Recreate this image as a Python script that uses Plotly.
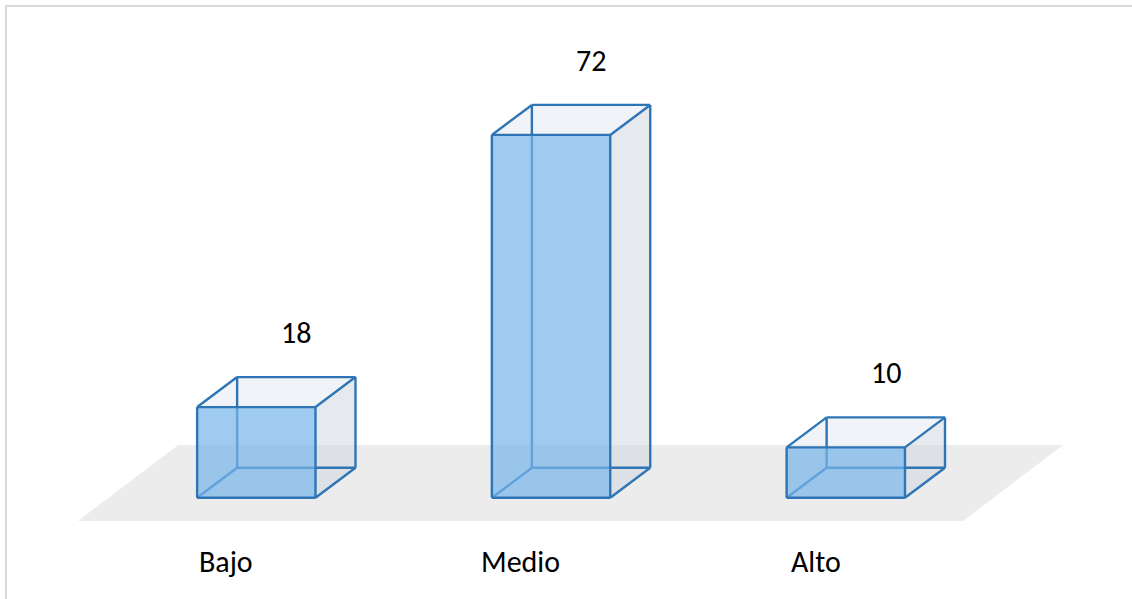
import plotly.graph_objects as go

# ---- data ----
categories = ["Bajo", "Medio", "Alto"]
values = [18, 72, 10]
value_labels = ["18", "72", "10"]

# ---- styling / geometry constants (axis units) ----
W, H = 1132, 599
BAR_HALF = 0.2008          # half width of front face (category units)
DX = 40 / 294.75           # depth offset in x (category units)
DY = 30 / 5.04             # depth offset in y (value units)
LABEL_GAP = 8.9            # gap between back-top edge and value label (value units)
CAT_SHIFT = -0.102         # category label shift (category units)
CAT_Y = -12.6              # category label y (value units)
XR = [-0.8696, 2.971]
YR = [-20.08, 98.77]
# floor parallelogram (axis units)
FLOOR_FRONT_Y, FLOOR_BACK_Y = -4.60, 10.48
FLOOR_FRONT_X = [-0.605, 2.398]
FLOOR_BACK_X = [-0.2655, 2.737]

EDGE = "rgb(46,117,182)"
FRONT = "rgba(119,181,234,0.70)"
SIDE = "rgba(205,213,221,0.50)"
TOP = "rgba(225,232,240,0.50)"
FLOOR = "rgb(236,236,236)"
LW = 2.4
FONT = "Calibri, Carlito, Lato, sans-serif"
FS = 30

fig = go.Figure()

def poly(xs, ys, fill):
    fig.add_trace(go.Scatter(x=xs + [xs[0]], y=ys + [ys[0]], mode="lines",
                             fill="toself", fillcolor=fill,
                             line=dict(width=0, color=fill),
                             hoverinfo="skip", showlegend=False))

def segs(pairs, color=EDGE):
    xs, ys = [], []
    for (x0, y0), (x1, y1) in pairs:
        xs += [x0, x1, None]
        ys += [y0, y1, None]
    fig.add_trace(go.Scatter(x=xs, y=ys, mode="lines",
                             line=dict(width=LW, color=color),
                             hoverinfo="skip", showlegend=False))

# floor
poly([FLOOR_FRONT_X[0], FLOOR_FRONT_X[1], FLOOR_BACK_X[1], FLOOR_BACK_X[0]],
     [FLOOR_FRONT_Y, FLOOR_FRONT_Y, FLOOR_BACK_Y, FLOOR_BACK_Y], FLOOR)

for i, v in enumerate(values):
    xl, xr = i - BAR_HALF, i + BAR_HALF
    bl, br = xl + DX, xr + DX
    # side face
    poly([xr, xr, br, br], [0, v, v + DY, DY], SIDE)
    # top face
    poly([xl, xr, br, bl], [v, v, v + DY, v + DY], TOP)
    # hidden edges
    segs([((bl, DY), (bl, v + DY)), ((bl, DY), (br, DY)), ((xl, 0), (bl, DY))])
    # front face
    poly([xl, xr, xr, xl], [0, 0, v, v], FRONT)
    # visible edges
    segs([((xl, 0), (xr, 0)), ((xr, 0), (xr, v)), ((xr, v), (xl, v)), ((xl, v), (xl, 0)),
          ((xl, v), (bl, v + DY)), ((xr, v), (br, v + DY)), ((bl, v + DY), (br, v + DY)),
          ((br, v + DY), (br, DY)), ((xr, 0), (br, DY))])

annotations = []
for i, (v, t) in enumerate(zip(values, value_labels)):
    annotations.append(dict(x=i + DX, y=v + DY + LABEL_GAP, text=t, showarrow=False,
                            xanchor="center", yanchor="middle",
                            font=dict(family=FONT, size=FS, color="black")))
for i, c in enumerate(categories):
    annotations.append(dict(x=i + CAT_SHIFT, y=CAT_Y, text=c, showarrow=False,
                            xanchor="center", yanchor="middle",
                            font=dict(family=FONT, size=FS, color="black")))

fig.update_layout(
    width=W, height=H,
    margin=dict(l=0, r=0, t=0, b=0),
    paper_bgcolor="white", plot_bgcolor="white",
    xaxis=dict(range=XR, visible=False, fixedrange=True),
    yaxis=dict(range=YR, visible=False, fixedrange=True),
    annotations=annotations,
    shapes=[
        dict(type="line", xref="paper", yref="paper", x0=5 / W, x1=1, y0=1 - 6 / H, y1=1 - 6 / H,
             line=dict(color="rgb(217,217,217)", width=2)),
        dict(type="line", xref="paper", yref="paper", x0=6 / W, x1=6 / W, y0=0, y1=1 - 5 / H,
             line=dict(color="rgb(217,217,217)", width=2)),
    ],
    showlegend=False,
)

fig.write_html("out.html", config={"displayModeBar": False})
